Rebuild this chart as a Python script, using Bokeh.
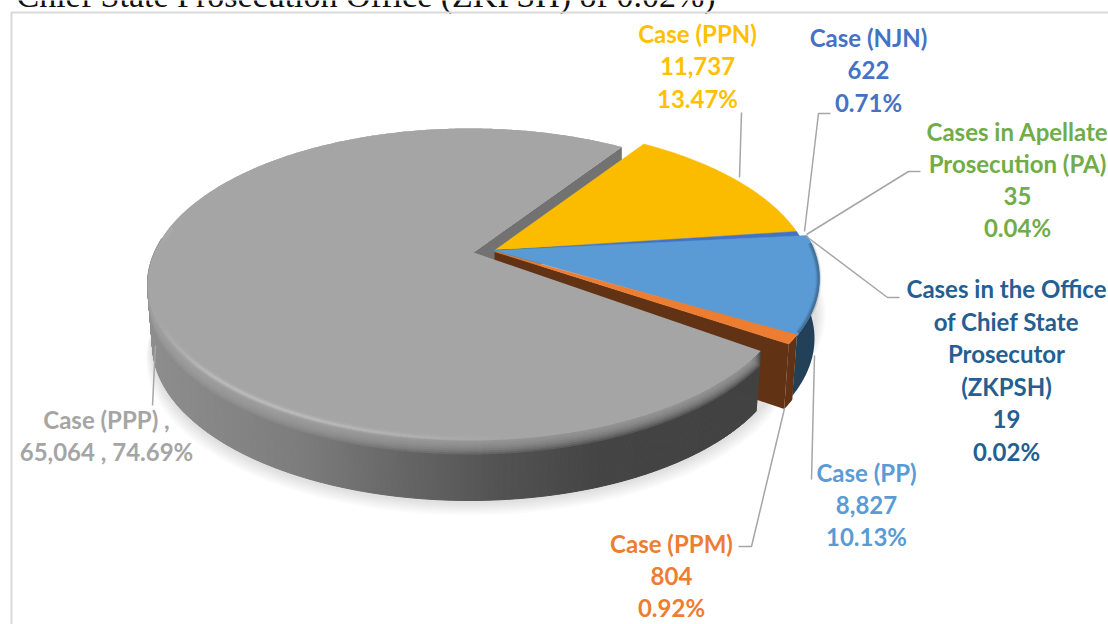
import numpy as np
from bokeh.plotting import figure
from bokeh.models import ColumnDataSource
from bokeh.core.properties import value
from bokeh.embed import file_html
from bokeh.resources import INLINE

# ---- data ----
categories = ["Case (PPN)", "Case (NJN)", "Cases in Apellate Prosecution (PA)",
              "Cases in the Office of Chief State Prosecutor (ZKPSH)",
              "Case (PP)", "Case (PPM)", "Case (PPP)"]
counts = [11737, 622, 35, 19, 8827, 804, 65064]
percents = ["13.47%", "0.71%", "0.04%", "0.02%", "10.13%", "0.92%", "74.69%"]
top_colors = ["#FBBC00", "#4472C4", "#70AD47", "#255E91", "#5B9BD5", "#ED7D31", "#A5A5A5"]
side_colors = ["#7F6000", "#203864", "#3F6B26", "#1B3F60", "#234059", "#613214", "#666666"]
text_colors = ["#FFC000", "#4472C4", "#70AD47", "#255E91", "#5B9BD5", "#ED7D31", "#A5A5A5"]

title_text = "Chief State Prosecution Office (ZKPSH) of 0.02%)"
FONT = "Lato"
START = 55.6      # degrees of the first slice's edge
PERSP = 0.205     # perspective of the disc
A, B = 322.0, 156.0
DEPTH = 60.0

# outer-arc ellipse centres per slice (explosion)
centers = [(491, 281), (491, 281), (496, 281), (497, 280), (497, 278), (497, 277), (469, 284)]
apexes = [(494, 250), (494, 250), (494, 250), (494, 250), (494, 250), (494, 251), (473, 252)]

# label blocks: centre x, first line y, lines
label_lines = [
    ["Case (PPN)", "11,737", "13.47%"],
    ["Case (NJN)", "622", "0.71%"],
    ["Cases in Apellate", "Prosecution (PA)", "35", "0.04%"],
    ["Cases in the Office", "of Chief State", "Prosecutor", "(ZKPSH)", "19", "0.02%"],
    ["Case (PP)", "8,827", "10.13%"],
    ["Case (PPM)", "804", "0.92%"],
    ["Case (PPP) ,", "65,064 , 74.69%"],
]
label_pos = [(697, 33), (868, 37), (1017, 131), (1006, 288), (866, 472), (671, 543), (106, 419)]
leaders = [
    ([741, 739], [112, 177]),
    ([830, 818, 804], [113, 113, 231]),
    ([920, 908, 806], [171, 171, 234]),
    ([899, 887, 806], [297, 297, 236]),
    ([811, 814], [479, 355]),
    ([738, 751, 784], [546, 546, 408]),
    ([152, 155], [405, 345]),
]


def project(theta_deg):
    """Disc angle to normalised ellipse coordinates (perspective view)."""
    t = np.radians(theta_deg)
    X, Y = np.cos(t), np.sin(t)
    d = 1 + PERSP * Y
    return X * np.sqrt(1 - PERSP ** 2) / d, (Y + PERSP) / d


def arc(i, t0, t1, n=None, dy=0.0, shrink=0.0):
    n = n or max(3, int(abs(t1 - t0) * 2))
    u, v = project(np.linspace(t0, t1, n))
    cx, cy = centers[i]
    return cx + (A - shrink) * u, cy + dy - B * v, v


def mix(c1, c2, f):
    a = [int(c1[j:j + 2], 16) for j in (1, 3, 5)]
    b = [int(c2[j:j + 2], 16) for j in (1, 3, 5)]
    return "#%02x%02x%02x" % tuple(int(round(a[k] + (b[k] - a[k]) * f)) for k in range(3))


total = float(sum(counts))
edges = [START]
for c in counts:
    edges.append(edges[-1] - 360.0 * c / total)

p = figure(width=1108, height=624, x_range=(0, 1108), y_range=(624, 0),
           output_backend="svg", toolbar_location=None, min_border=0,
           outline_line_color=None,
           background_fill_color="white", border_fill_color="white")
p.axis.visible = False
p.grid.visible = False

# document title cut by the chart box
p.text([16], [-5], text=[title_text], text_font=value("Liberation Serif"), text_font_size="34px",
       text_color="#111111", text_align="left", text_baseline="alphabetic")

GRAY = 6
BLUE = 4
# soft shadow below the body
for k in range(8, 0, -1):
    xs, ys, _ = arc(GRAY, -180, 180, 360, dy=DEPTH + 1.0 + k * 1.7, shrink=5 - k * 0.8)
    p.patch(xs, ys, fill_color="#808080", fill_alpha=0.035, line_color=None)
    xs, ys, _ = arc(BLUE, edges[BLUE], edges[BLUE + 1], dy=DEPTH * 0.6, shrink=5 - k * 1.4)
    p.patch(np.r_[600, xs], np.r_[320, ys], fill_color="#808080", fill_alpha=0.035, line_color=None)

# outer wall of the blue slice
i = BLUE
xa, ya, _ = arc(i, edges[i], edges[i + 1])
xb, yb, _ = arc(i, edges[i], edges[i + 1], dy=DEPTH, shrink=5)
p.patch(np.r_[xa, xb[::-1]], np.r_[ya, yb[::-1]], fill_color=side_colors[i], fill_alpha=1, line_color=None)

# grey slice: cut face seen behind the yellow slice
i = GRAY
ax, ay = apexes[i]
xa, ya, _ = arc(i, edges[i], edges[i + 1])
e = len(xa) - 1
p.patch([ax, xa[e], xa[e], ax], [ay, ya[e], ya[e] + DEPTH, ay + DEPTH], fill_color="#727272", fill_alpha=1, line_color=None)

# orange slice: wall and cut face
i = 5
xa, ya, _ = arc(i, edges[i], edges[i + 1])
xb, yb, _ = arc(i, edges[i], edges[i + 1], dy=DEPTH + 5, shrink=5)
ax, ay = apexes[i]
p.patch(np.r_[xa, xb[::-1]], np.r_[ya, yb[::-1]], fill_color=side_colors[i], fill_alpha=1, line_color=None)
p.patch([ax, xa[-1], xb[-1], ax], [ay, ya[-1], yb[-1], ay + DEPTH], fill_color=side_colors[i], fill_alpha=1, line_color=None)

# grey wall, in strips shaded from left to right
i = GRAY
ax, ay = apexes[i]
wall_stops = [(147, "#8e8e8e"), (300, "#7c7c7c"), (400, "#666666"), (500, "#525252"), (600, "#444444"), (800, "#414141")]
t = np.linspace(edges[i], edges[i + 1], 700)
t = t[project(t)[1] < 0.3]
us, vs = project(t)
cx, cy = centers[i]
xt, yt = cx + A * us, cy - B * vs
xb, yb = cx + (A - 5) * us, cy + DEPTH - B * vs
stop_x = [s[0] for s in wall_stops]
sx, sy, sc = [], [], []
for k in range(len(t) - 1):
    m = (xt[k] + xt[k + 1]) / 2
    j = min(np.searchsorted(stop_x, m), len(stop_x) - 1)
    j = max(j, 1)
    f = np.clip((m - stop_x[j - 1]) / (stop_x[j] - stop_x[j - 1]), 0, 1)
    sx.append([xt[k], xt[k + 1], xb[k + 1], xb[k]])
    sy.append([yt[k], yt[k + 1], yb[k + 1], yb[k]])
    sc.append(mix(wall_stops[j - 1][1], wall_stops[j][1], f))
p.patches(sx, sy, fill_color=sc, line_color=sc, line_width=1, fill_alpha=1, line_alpha=1)

# soft bevel on the grey rim, then the top of the grey slice
for d in range(14, 0, -2):
    u, v = project(np.linspace(edges[i], edges[i + 1], 500))
    w = np.clip(0.35 - v, 0, 1)
    xs = cx + A * u
    ys = cy - B * v + d * np.clip(w * 2, 0, 1)
    p.patch(np.r_[ax, xs], np.r_[ay, ys], fill_color=top_colors[i], fill_alpha=0.22, line_color=None)
xs, ys, _ = arc(i, edges[i], edges[i + 1], 500)
p.patch(np.r_[ax, xs], np.r_[ay, ys], fill_color=top_colors[i], fill_alpha=1, line_color=None)

# light rim on the left and front of the grey slice
t = np.linspace(-190, -70, 240)
u, v = project(t)
hx = cx + (A - 3) * u
hy = cy - (B - 2) * v
hsx = [[hx[k], hx[k + 1]] for k in range(len(t) - 1)]
hsy = [[hy[k], hy[k + 1]] for k in range(len(t) - 1)]
fade = np.clip((520 - hx[:-1]) / 220.0, 0, 1) * np.clip((hx[:-1] - 150) / 60.0, 0, 1)
for w_, al in ((7, 0.06), (4, 0.09), (2, 0.12)):
    p.multi_line(hsx, hsy, line_color="white", line_width=w_, line_alpha=list(al * fade))

# tops of the other slices
for i in [0, 1, 2, 3, 4, 5]:
    ax, ay = apexes[i]
    xs, ys, _ = arc(i, edges[i], edges[i + 1])
    p.patch(np.r_[ax, xs], np.r_[ay, ys], fill_color=top_colors[i], fill_alpha=1, line_color=top_colors[i], line_width=0.5)

# dark soft edge along the blue rim
i = BLUE
xs, ys, _ = arc(i, edges[i] - 3, edges[i + 1] + 1, shrink=1)
for w_, al in ((6, 0.10), (4, 0.16), (2, 0.25)):
    p.line(xs, ys, line_color=side_colors[i], line_width=w_, line_alpha=al)

# leader lines
p.multi_line([l[0] for l in leaders], [l[1] for l in leaders], line_color="#A6A6A6", line_width=1.5, line_alpha=1)

# chart box
p.line([1108, 11, 11], [12, 12, 624], line_color="#D9D9D9", line_width=2)

# labels
LINE = [32.4, 32.4, 32.0, 32.6, 32.0, 32.0, 32.0]
tx, ty, tt, tc = [], [], [], []
for lines, pos, col, step in zip(label_lines, label_pos, text_colors, LINE):
    for n, s in enumerate(lines):
        tx.append(pos[0])
        ty.append(pos[1] + n * step)
        tt.append(s)
        tc.append(col)
p.text("x", "y", text="t", text_color="c", source=ColumnDataSource(dict(x=tx, y=ty, t=tt, c=tc)),
       text_font=value(FONT), text_font_style="bold", text_font_size="24px",
       text_align="center", text_baseline="middle")

open("out.html", "w").write(file_html(p, INLINE))
